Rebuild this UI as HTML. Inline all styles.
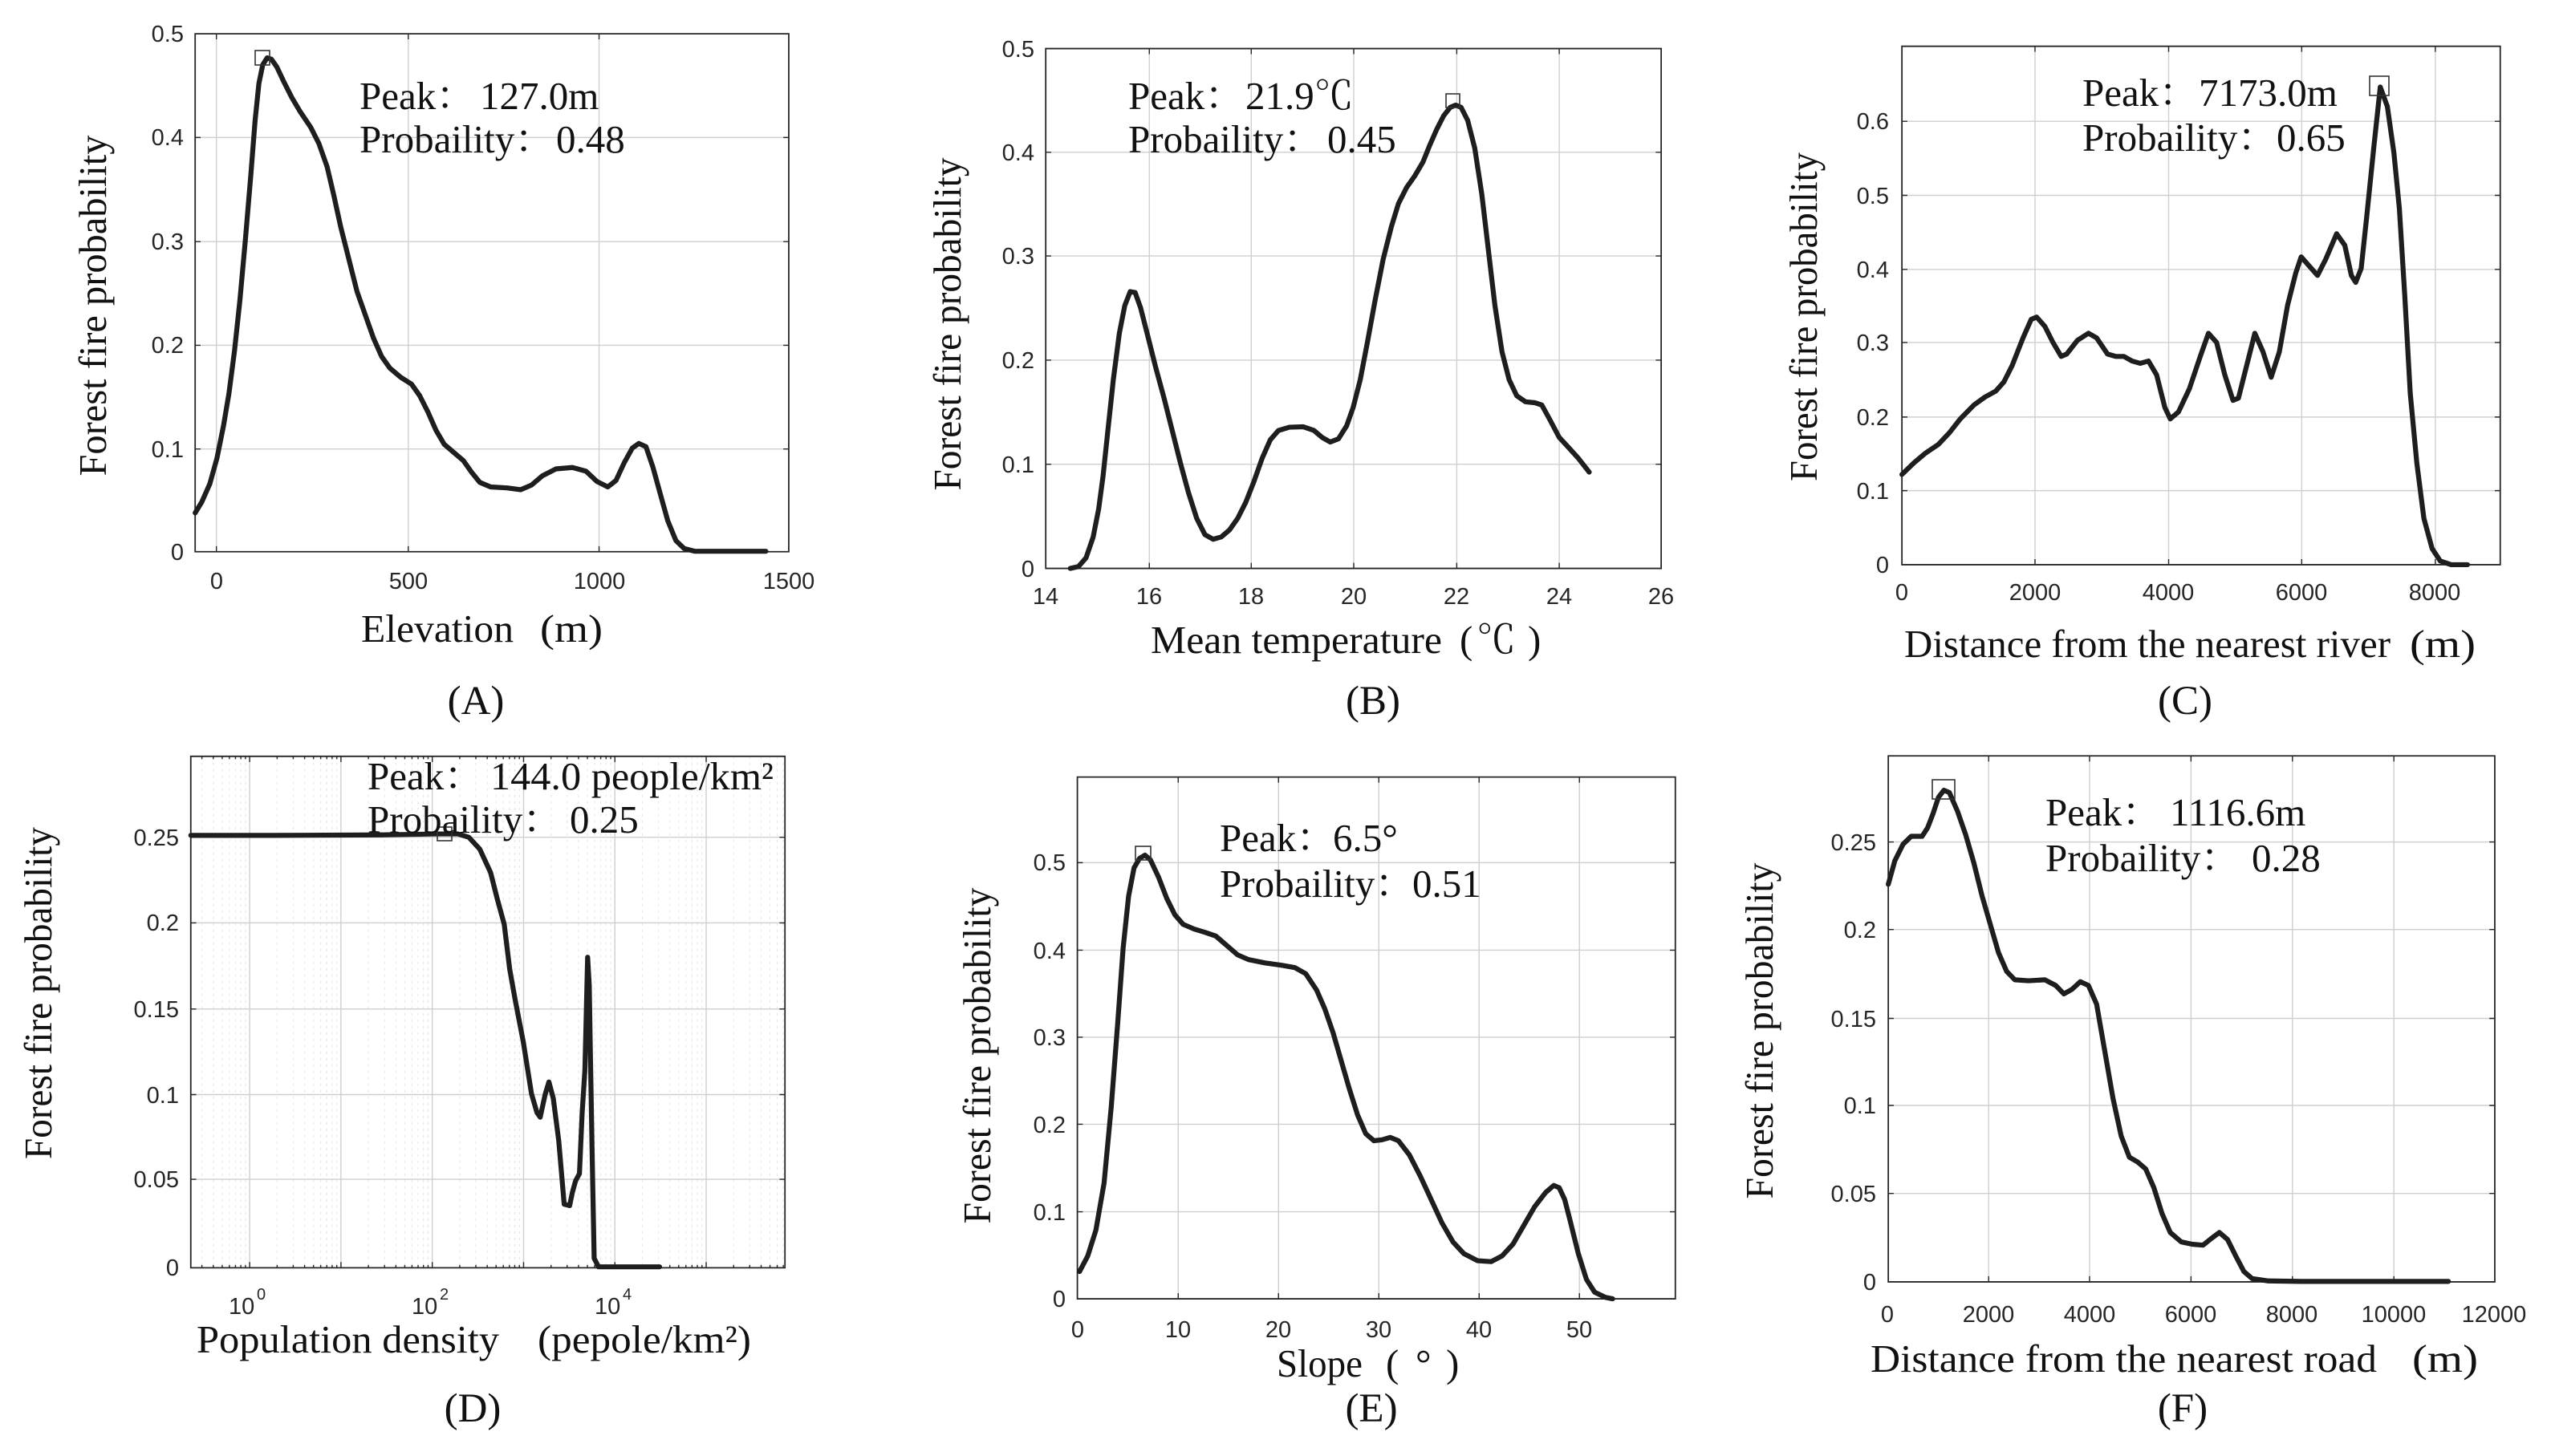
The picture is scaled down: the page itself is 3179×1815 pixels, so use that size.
<!DOCTYPE html>
<html><head><meta charset="utf-8"><style>
html,body{margin:0;padding:0;background:#fff;}
svg{display:block;}
.tk{font-family:"Liberation Sans",Arial,sans-serif;font-size:29px;fill:#262626;}
.sr{font-family:"Liberation Serif","Noto Serif CJK SC",serif;font-size:49px;fill:#111;}
.lb{font-family:"Liberation Serif","Noto Serif CJK SC",serif;font-size:51px;fill:#111;}
.bx{fill:none;stroke:#262626;stroke-width:1.8;}
.gr{stroke:#cfcfcf;stroke-width:1.4;}
.mg{stroke:#e4e4e4;stroke-width:1.1;stroke-dasharray:3 5;}
.tm{stroke:#262626;stroke-width:1.4;}
.cv{fill:none;stroke:#1e1e1e;stroke-width:6.2;stroke-linejoin:round;stroke-linecap:round;}
.mk{fill:none;stroke:#333;stroke-width:1.6;}
</style></head><body>
<svg width="3179" height="1815" viewBox="0 0 3179 1815" xmlns="http://www.w3.org/2000/svg">
<rect width="3179" height="1815" fill="#fff"/>

<!-- ============ PANEL A ============ -->
<g transform="translate(0,0) scale(0.6793,0.5770)">
  <g class="gr">
    <line x1="397" y1="73" x2="397" y2="1192" vector-effect="non-scaling-stroke"/>
    <line x1="749" y1="73" x2="749" y2="1192" vector-effect="non-scaling-stroke"/>
    <line x1="1099" y1="73" x2="1099" y2="1192" vector-effect="non-scaling-stroke"/>
    <line x1="358" y1="297" x2="1447" y2="297" vector-effect="non-scaling-stroke"/>
    <line x1="358" y1="522" x2="1447" y2="522" vector-effect="non-scaling-stroke"/>
    <line x1="358" y1="746" x2="1447" y2="746" vector-effect="non-scaling-stroke"/>
    <line x1="358" y1="970" x2="1447" y2="970" vector-effect="non-scaling-stroke"/>
  </g>
  <g class="tm">
    <path d="M397 1192V1180M749 1192V1180M1099 1192V1180M397 73V85M749 73V85M1099 73V85M358 297H368M358 522H368M358 746H368M358 970H368M1447 297H1437M1447 522H1437M1447 746H1437M1447 970H1437" vector-effect="non-scaling-stroke"/>
  </g>
  <rect class="bx" x="358" y="73" width="1089" height="1119" vector-effect="non-scaling-stroke"/>
  <polyline class="cv" vector-effect="non-scaling-stroke" points="358,1108 370,1085 385,1045 398,990 410,920 420,850 430,760 440,650 450,520 460,380 468,260 475,180 482,140 490,125 498,128 508,145 520,175 535,210 550,240 570,275 585,310 600,360 612,420 625,490 640,560 655,630 670,680 685,730 700,770 715,795 735,815 755,830 770,855 785,890 800,930 815,960 835,980 850,995 865,1020 880,1042 900,1052 930,1054 955,1058 975,1048 995,1028 1020,1013 1050,1010 1075,1018 1095,1040 1115,1052 1130,1038 1145,1000 1160,968 1172,958 1185,965 1198,1010 1212,1070 1225,1125 1240,1168 1255,1185 1275,1191 1405,1191"/>
</g>
<rect class="mk" x="318" y="63" width="18" height="18"/>
<g class="tk" text-anchor="end">
  <text x="229" y="52">0.5</text><text x="229" y="181">0.4</text><text x="229" y="311">0.3</text>
  <text x="229" y="440">0.2</text><text x="229" y="570">0.1</text><text x="229" y="698">0</text>
</g>
<g class="tk" text-anchor="middle">
  <text x="270" y="734">0</text><text x="509" y="734">500</text><text x="747" y="734">1000</text><text x="983" y="734">1500</text>
</g>
<text class="sr" x="448" y="136">Peak：</text><text class="sr" x="598" y="136">127.0m</text>
<text class="sr" x="448" y="190">Probaility：</text><text class="sr" x="693" y="190">0.48</text>
<text class="sr" transform="translate(132,381) rotate(-90)" text-anchor="middle" textLength="425" lengthAdjust="spacingAndGlyphs">Forest fire probability</text>
<text class="sr" x="450" y="800" textLength="190" lengthAdjust="spacingAndGlyphs">Elevation</text>
<text class="sr" x="673" y="800" textLength="78" lengthAdjust="spacingAndGlyphs">(m)</text>
<text class="lb" x="593" y="890" text-anchor="middle">(A)</text>

<!-- ============ PANEL B ============ -->
<g transform="translate(1060,0) scale(0.6793,0.5770)">
  <g class="gr">
    <line x1="548" y1="105" x2="548" y2="1228" vector-effect="non-scaling-stroke"/>
    <line x1="735" y1="105" x2="735" y2="1228" vector-effect="non-scaling-stroke"/>
    <line x1="923" y1="105" x2="923" y2="1228" vector-effect="non-scaling-stroke"/>
    <line x1="1112" y1="105" x2="1112" y2="1228" vector-effect="non-scaling-stroke"/>
    <line x1="1300" y1="105" x2="1300" y2="1228" vector-effect="non-scaling-stroke"/>
    <line x1="358" y1="329" x2="1487" y2="329" vector-effect="non-scaling-stroke"/>
    <line x1="358" y1="553" x2="1487" y2="553" vector-effect="non-scaling-stroke"/>
    <line x1="358" y1="778" x2="1487" y2="778" vector-effect="non-scaling-stroke"/>
    <line x1="358" y1="1003" x2="1487" y2="1003" vector-effect="non-scaling-stroke"/>
  </g>
  <path class="tm" vector-effect="non-scaling-stroke" d="M548 1228V1216M735 1228V1216M923 1228V1216M1112 1228V1216M1300 1228V1216M548 105V117M735 105V117M923 105V117M1112 105V117M1300 105V117M358 329H368M358 553H368M358 778H368M358 1003H368M1487 329H1477M1487 553H1477M1487 778H1477M1487 1003H1477"/>
  <rect class="bx" x="358" y="105" width="1129" height="1123" vector-effect="non-scaling-stroke"/>
  <polyline class="cv" vector-effect="non-scaling-stroke" points="403,1228 418,1224 432,1205 445,1160 455,1100 463,1030 472,930 482,820 493,720 503,660 513,630 522,632 532,665 545,725 560,795 575,860 590,930 605,1000 620,1065 635,1120 650,1155 665,1165 680,1160 695,1145 710,1120 725,1085 740,1040 755,990 770,950 785,930 805,923 830,922 850,930 865,945 880,955 895,948 910,920 922,880 935,820 948,740 962,650 977,560 992,490 1005,440 1020,405 1035,380 1050,350 1062,315 1075,280 1088,250 1100,232 1110,227 1120,232 1132,260 1145,320 1158,420 1170,540 1182,660 1195,760 1208,820 1222,855 1238,868 1255,870 1268,875 1282,905 1300,945 1318,968 1335,990 1355,1020"/>
</g>
<rect class="mk" x="1802" y="117" width="17" height="17"/>
<g class="tk" text-anchor="end">
  <text x="1289" y="71">0.5</text><text x="1289" y="200">0.4</text><text x="1289" y="329">0.3</text>
  <text x="1289" y="459">0.2</text><text x="1289" y="589">0.1</text><text x="1289" y="719">0</text>
</g>
<g class="tk" text-anchor="middle">
  <text x="1303" y="753">14</text><text x="1432" y="753">16</text><text x="1559" y="753">18</text><text x="1687" y="753">20</text>
  <text x="1815" y="753">22</text><text x="1943" y="753">24</text><text x="2070" y="753">26</text>
</g>
<text class="sr" x="1406" y="136">Peak：</text><text class="sr" x="1552" y="136">21.9℃</text>
<text class="sr" x="1406" y="190">Probaility：</text><text class="sr" x="1654" y="190">0.45</text>
<text class="sr" transform="translate(1197,404) rotate(-90)" text-anchor="middle" textLength="415" lengthAdjust="spacingAndGlyphs">Forest fire probability</text>
<text class="sr" x="1434" y="814" textLength="363" lengthAdjust="spacingAndGlyphs">Mean temperature</text>
<text class="sr" x="1819" y="814">(</text><text class="sr" x="1840" y="814">℃</text><text class="sr" x="1904" y="814">)</text>
<text class="lb" x="1711" y="890" text-anchor="middle">(B)</text>

<!-- ============ PANEL C ============ -->
<g transform="translate(2120,0) scale(0.6797,0.5770)">
  <g class="gr">
    <line x1="612" y1="100" x2="612" y2="1220" vector-effect="non-scaling-stroke"/>
    <line x1="857" y1="100" x2="857" y2="1220" vector-effect="non-scaling-stroke"/>
    <line x1="1101" y1="100" x2="1101" y2="1220" vector-effect="non-scaling-stroke"/>
    <line x1="1346" y1="100" x2="1346" y2="1220" vector-effect="non-scaling-stroke"/>
    <line x1="368" y1="262" x2="1465" y2="262" vector-effect="non-scaling-stroke"/>
    <line x1="368" y1="422" x2="1465" y2="422" vector-effect="non-scaling-stroke"/>
    <line x1="368" y1="582" x2="1465" y2="582" vector-effect="non-scaling-stroke"/>
    <line x1="368" y1="740" x2="1465" y2="740" vector-effect="non-scaling-stroke"/>
    <line x1="368" y1="901" x2="1465" y2="901" vector-effect="non-scaling-stroke"/>
    <line x1="368" y1="1060" x2="1465" y2="1060" vector-effect="non-scaling-stroke"/>
  </g>
  <path class="tm" vector-effect="non-scaling-stroke" d="M612 1220V1208M857 1220V1208M1101 1220V1208M1346 1220V1208M612 100V112M857 100V112M1101 100V112M1346 100V112M368 262H378M368 422H378M368 582H378M368 740H378M368 901H378M368 1060H378M1465 262H1455M1465 422H1455M1465 582H1455M1465 740H1455M1465 901H1455M1465 1060H1455"/>
  <rect class="bx" x="368" y="100" width="1097" height="1120" vector-effect="non-scaling-stroke"/>
  <polyline class="cv" vector-effect="non-scaling-stroke" points="368,1025 390,1000 410,980 435,960 455,935 475,905 500,875 520,858 540,845 555,825 570,790 590,730 605,690 615,685 630,705 645,740 660,770 670,765 690,735 710,720 725,730 745,765 760,770 775,770 790,780 805,785 820,780 835,810 850,880 860,905 875,890 895,840 915,770 930,720 945,740 960,810 975,865 985,860 1000,790 1015,720 1030,760 1045,815 1060,760 1075,660 1090,590 1100,555 1115,575 1130,595 1145,560 1165,505 1180,530 1192,595 1200,610 1210,580 1220,470 1233,320 1245,188 1258,230 1270,330 1280,450 1290,640 1300,850 1312,1000 1325,1120 1340,1185 1355,1212 1375,1220 1405,1220"/>
</g>
<rect class="mk" x="2953" y="95" width="24" height="24"/>
<g class="tk" text-anchor="end">
  <text x="2354" y="161">0.6</text><text x="2354" y="254">0.5</text><text x="2354" y="346">0.4</text><text x="2354" y="437">0.3</text>
  <text x="2354" y="530">0.2</text><text x="2354" y="622">0.1</text><text x="2354" y="714">0</text>
</g>
<g class="tk" text-anchor="middle">
  <text x="2370" y="748">0</text><text x="2536" y="748">2000</text><text x="2702" y="748">4000</text><text x="2868" y="748">6000</text><text x="3034" y="748">8000</text>
</g>
<text class="sr" x="2595" y="132">Peak：</text><text class="sr" x="2740" y="132">7173.0m</text>
<text class="sr" x="2595" y="188">Probaility：</text><text class="sr" x="2837" y="188">0.65</text>
<text class="sr" transform="translate(2264,395) rotate(-90)" text-anchor="middle" textLength="410" lengthAdjust="spacingAndGlyphs">Forest fire probability</text>
<text class="sr" x="2373" y="819" textLength="606" lengthAdjust="spacingAndGlyphs">Distance from the nearest river</text>
<text class="sr" x="3003" y="819" textLength="82" lengthAdjust="spacingAndGlyphs">(m)</text>
<text class="lb" x="2723" y="890" text-anchor="middle">(C)</text>

<!-- ============ PANEL D ============ -->
<g transform="translate(0,900) scale(0.6793,0.5865)">
  <g class="mg">
    <path vector-effect="non-scaling-stroke" d="M370.4 73V1160M391.3 73V1160M407.6 73V1160M420.8 73V1160M432 73V1160M441.8 73V1160M450.3 73V1160M508.4 73V1160M537.9 73V1160M558.8 73V1160M575.1 73V1160M588.3 73V1160M599.5 73V1160M609.3 73V1160M617.8 73V1160M675.9 73V1160M705.4 73V1160M726.3 73V1160M742.6 73V1160M755.8 73V1160M767 73V1160M776.8 73V1160M785.3 73V1160M843.4 73V1160M872.9 73V1160M893.8 73V1160M910.1 73V1160M923.3 73V1160M934.5 73V1160M944.3 73V1160M952.8 73V1160M1010.9 73V1160M1040.4 73V1160M1061.3 73V1160M1077.6 73V1160M1090.8 73V1160M1102 73V1160M1111.8 73V1160M1120.3 73V1160M1178.4 73V1160M1207.9 73V1160M1228.8 73V1160M1245.1 73V1160M1258.3 73V1160M1269.5 73V1160M1279.3 73V1160M1287.8 73V1160M1345.9 73V1160M1375.4 73V1160M1396.3 73V1160M1412.6 73V1160M1425.8 73V1160M1437 73V1160"/>
  </g>
  <g class="gr">
    <path vector-effect="non-scaling-stroke" d="M458 73V1160M625.5 73V1160M793 73V1160M960.5 73V1160M1128 73V1160M1295.5 73V1160M350 245H1440M350 427H1440M350 610H1440M350 792H1440M350 972H1440"/>
  </g>
  <path class="tm" vector-effect="non-scaling-stroke" d="M458 1160V1148M625.5 1160V1148M793 1160V1148M960.5 1160V1148M1128 1160V1148M1295.5 1160V1148M458 73V85M625.5 73V85M793 73V85M960.5 73V85M1128 73V85M1295.5 73V85M350 245H360M350 427H360M350 610H360M350 792H360M350 972H360M1440 245H1430M1440 427H1430M1440 610H1430M1440 792H1430M1440 972H1430"/>
  <path class="tm" vector-effect="non-scaling-stroke" d="M370.4 1160V1154M391.3 1160V1154M407.6 1160V1154M420.8 1160V1154M432 1160V1154M441.8 1160V1154M450.3 1160V1154M508.4 1160V1154M537.9 1160V1154M558.8 1160V1154M575.1 1160V1154M588.3 1160V1154M599.5 1160V1154M609.3 1160V1154M617.8 1160V1154M675.9 1160V1154M705.4 1160V1154M726.3 1160V1154M742.6 1160V1154M755.8 1160V1154M767 1160V1154M776.8 1160V1154M785.3 1160V1154M843.4 1160V1154M872.9 1160V1154M893.8 1160V1154M910.1 1160V1154M923.3 1160V1154M934.5 1160V1154M944.3 1160V1154M952.8 1160V1154M1010.9 1160V1154M1040.4 1160V1154M1061.3 1160V1154M1077.6 1160V1154M1090.8 1160V1154M1102 1160V1154M1111.8 1160V1154M1120.3 1160V1154M1178.4 1160V1154M1207.9 1160V1154M1228.8 1160V1154M1245.1 1160V1154M1258.3 1160V1154M1269.5 1160V1154M1279.3 1160V1154M1287.8 1160V1154M1345.9 1160V1154M1375.4 1160V1154M1396.3 1160V1154M1412.6 1160V1154M1425.8 1160V1154M1437 1160V1154M370.4 73V79M391.3 73V79M407.6 73V79M420.8 73V79M432 73V79M441.8 73V79M450.3 73V79M508.4 73V79M537.9 73V79M558.8 73V79M575.1 73V79M588.3 73V79M599.5 73V79M609.3 73V79M617.8 73V79M675.9 73V79M705.4 73V79M726.3 73V79M742.6 73V79M755.8 73V79M767 73V79M776.8 73V79M785.3 73V79M843.4 73V79M872.9 73V79M893.8 73V79M910.1 73V79M923.3 73V79M934.5 73V79M944.3 73V79M952.8 73V79M1010.9 73V79M1040.4 73V79M1061.3 73V79M1077.6 73V79M1090.8 73V79M1102 73V79M1111.8 73V79M1120.3 73V79"/>
  <rect class="bx" x="350" y="73" width="1090" height="1087" vector-effect="non-scaling-stroke"/>
  <polyline class="cv" vector-effect="non-scaling-stroke" points="350,241 500,241 700,240 800,238 840,238 860,245 880,270 900,320 912,375 925,430 935,525 945,590 960,680 975,790 985,830 991,840 1000,792 1007,765 1015,800 1025,890 1035,1025 1045,1028 1050,1000 1056,975 1063,960 1068,830 1073,740 1078,500 1081,560 1083,700 1086,900 1090,1140 1098,1158 1210,1158"/>
</g>
<rect class="mk" x="545" y="1031" width="18" height="17"/>
<g class="tk" text-anchor="end">
  <text x="223" y="1054">0.25</text><text x="223" y="1160">0.2</text><text x="223" y="1268">0.15</text>
  <text x="223" y="1375">0.1</text><text x="223" y="1480">0.05</text><text x="223" y="1590">0</text>
</g>
<g class="tk">
  <text x="285" y="1638">10</text><text x="320" y="1620" font-size="20">0</text>
  <text x="513" y="1638">10</text><text x="548" y="1620" font-size="20">2</text>
  <text x="741" y="1638">10</text><text x="776" y="1620" font-size="20">4</text>
</g>
<text class="sr" x="458" y="984">Peak：</text><text class="sr" x="611" y="984" textLength="353" lengthAdjust="spacingAndGlyphs">144.0 people/km²</text>
<text class="sr" x="458" y="1038">Probaility：</text><text class="sr" x="710" y="1038">0.25</text>
<text class="sr" transform="translate(64,1238) rotate(-90)" text-anchor="middle" textLength="414" lengthAdjust="spacingAndGlyphs">Forest fire probability</text>
<text class="sr" x="245" y="1686" textLength="377" lengthAdjust="spacingAndGlyphs">Population density</text>
<text class="sr" x="670" y="1686" textLength="266" lengthAdjust="spacingAndGlyphs">(pepole/km²)</text>
<text class="lb" x="589" y="1772" text-anchor="middle">(D)</text>

<!-- ============ PANEL E ============ -->
<g transform="translate(1060,900) scale(0.6793,0.5865)">
  <g class="gr">
    <path vector-effect="non-scaling-stroke" d="M601 117V1226M785 117V1226M969 117V1226M1153 117V1226M1337 117V1226M416 299H1513M416 485H1513M416 670H1513M416 855H1513M416 1041H1513"/>
  </g>
  <path class="tm" vector-effect="non-scaling-stroke" d="M601 1226V1214M785 1226V1214M969 1226V1214M1153 1226V1214M1337 1226V1214M601 117V129M785 117V129M969 117V129M1153 117V129M1337 117V129M416 299H426M416 485H426M416 670H426M416 855H426M416 1041H426M1513 299H1503M1513 485H1503M1513 670H1503M1513 855H1503M1513 1041H1503"/>
  <rect class="bx" x="416" y="117" width="1097" height="1109" vector-effect="non-scaling-stroke"/>
  <polyline class="cv" vector-effect="non-scaling-stroke" points="420,1168 435,1135 450,1080 465,980 478,820 490,640 500,480 510,370 520,310 530,290 540,283 550,293 565,330 580,375 595,410 610,430 630,440 650,447 670,455 690,475 710,495 730,505 760,512 790,517 815,522 835,535 855,570 870,610 885,660 900,720 915,780 930,835 945,875 960,890 975,888 990,883 1005,890 1025,920 1045,965 1065,1015 1085,1065 1105,1105 1125,1130 1150,1145 1175,1147 1195,1135 1215,1110 1235,1070 1255,1030 1275,1000 1290,985 1300,990 1310,1015 1320,1060 1335,1130 1350,1185 1365,1212 1385,1223 1398,1226"/>
</g>
<rect class="mk" x="1415" y="1055" width="19" height="17"/>
<g class="tk" text-anchor="end">
  <text x="1328" y="1085">0.5</text><text x="1328" y="1195">0.4</text><text x="1328" y="1303">0.3</text>
  <text x="1328" y="1412">0.2</text><text x="1328" y="1521">0.1</text><text x="1328" y="1629">0</text>
</g>
<g class="tk" text-anchor="middle">
  <text x="1343" y="1667">0</text><text x="1468" y="1667">10</text><text x="1593" y="1667">20</text>
  <text x="1718" y="1667">30</text><text x="1843" y="1667">40</text><text x="1968" y="1667">50</text>
</g>
<text class="sr" x="1520" y="1061">Peak：</text><text class="sr" x="1661" y="1061">6.5°</text>
<text class="sr" x="1520" y="1118">Probaility：</text><text class="sr" x="1760" y="1118">0.51</text>
<text class="sr" transform="translate(1234,1316) rotate(-90)" text-anchor="middle" textLength="419" lengthAdjust="spacingAndGlyphs">Forest fire probability</text>
<text class="sr" x="1591" y="1716" textLength="107" lengthAdjust="spacingAndGlyphs">Slope</text>
<text class="sr" x="1727" y="1716">(</text><text class="sr" x="1764" y="1716">°</text><text class="sr" x="1802" y="1716">)</text>
<text class="lb" x="1709" y="1772" text-anchor="middle">(E)</text>

<!-- ============ PANEL F ============ -->
<g transform="translate(2120,900) scale(0.6797,0.5865)">
  <g class="gr">
    <path vector-effect="non-scaling-stroke" d="M527 72V1190M712 72V1190M898 72V1190M1084 72V1190M1270 72V1190M343 255H1455M343 441H1455M343 630H1455M343 815H1455M343 1002H1455"/>
  </g>
  <path class="tm" vector-effect="non-scaling-stroke" d="M527 1190V1178M712 1190V1178M898 1190V1178M1084 1190V1178M1270 1190V1178M527 72V84M712 72V84M898 72V84M1084 72V84M1270 72V84M343 255H353M343 441H353M343 630H353M343 815H353M343 1002H353M1455 255H1445M1455 441H1445M1455 630H1445M1455 815H1445M1455 1002H1445"/>
  <rect class="bx" x="343" y="72" width="1112" height="1118" vector-effect="non-scaling-stroke"/>
  <polyline class="cv" vector-effect="non-scaling-stroke" points="343,345 355,295 370,260 385,243 405,243 415,225 425,195 435,160 445,145 455,150 470,190 485,240 500,300 515,370 530,430 545,490 560,530 575,548 600,550 630,548 650,560 665,578 680,568 695,552 710,560 725,600 740,700 755,800 770,880 785,925 800,935 815,950 830,990 845,1045 860,1085 880,1105 900,1110 920,1112 935,1098 950,1085 965,1100 980,1135 995,1168 1010,1183 1040,1188 1100,1189 1370,1189"/>
</g>
<rect class="mk" x="2408" y="972" width="28" height="24"/>
<g class="tk" text-anchor="end">
  <text x="2338" y="1060">0.25</text><text x="2338" y="1169">0.2</text><text x="2338" y="1280">0.15</text>
  <text x="2338" y="1388">0.1</text><text x="2338" y="1498">0.05</text><text x="2338" y="1608">0</text>
</g>
<g class="tk" text-anchor="middle">
  <text x="2352" y="1648">0</text><text x="2478" y="1648">2000</text><text x="2604" y="1648">4000</text><text x="2730" y="1648">6000</text>
  <text x="2856" y="1648">8000</text><text x="2983" y="1648">10000</text><text x="3108" y="1648">12000</text>
</g>
<text class="sr" x="2549" y="1029">Peak：</text><text class="sr" x="2704" y="1029">1116.6m</text>
<text class="sr" x="2549" y="1086">Probaility：</text><text class="sr" x="2806" y="1086">0.28</text>
<text class="sr" transform="translate(2209,1285) rotate(-90)" text-anchor="middle" textLength="419" lengthAdjust="spacingAndGlyphs">Forest fire probability</text>
<text class="sr" x="2331" y="1710" textLength="631" lengthAdjust="spacingAndGlyphs">Distance from the nearest road</text>
<text class="sr" x="3006" y="1710" textLength="82" lengthAdjust="spacingAndGlyphs">(m)</text>
<text class="lb" x="2720" y="1772" text-anchor="middle">(F)</text>
</svg>
</body></html>
